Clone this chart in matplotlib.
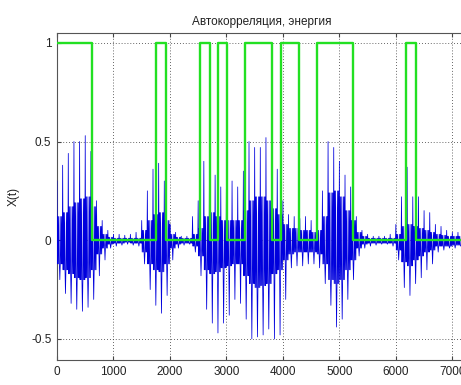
import numpy as np
import matplotlib
matplotlib.use("Agg")
import matplotlib.pyplot as plt

# ---- data ----
bin_width = 100  # samples per bin
spike_hi = [0.30, 0.38, 0.44, 0.50, 0.50, 0.53, 0.45, 0.20, 0.10, 0.05,
            0.03, 0.03, 0.025, 0.03, 0.04, 0.10, 0.25, 0.36, 0.39, 0.30,
            0.08, 0.04, 0.02, 0.02, 0.12, 0.20, 0.40, 0.38, 0.33, 0.27,
            0.30, 0.30, 0.27, 0.35, 0.50, 0.47, 0.47, 0.52, 0.40, 0.36,
            0.20, 0.13, 0.12, 0.11, 0.12, 0.10, 0.12, 0.25, 0.50, 0.47,
            0.40, 0.33, 0.27, 0.12, 0.05, 0.03, 0.02, 0.02, 0.02, 0.03,
            0.08, 0.22, 0.37, 0.22, 0.22, 0.15, 0.14, 0.08, 0.07, 0.05,
            0.04, 0.04, 0.04]
spike_lo = [-0.20, -0.27, -0.32, -0.35, -0.36, -0.34, -0.30, -0.18, -0.10, -0.04,
            -0.03, -0.025, -0.02, -0.025, -0.03, -0.12, -0.25, -0.33, -0.37, -0.28,
            -0.10, -0.04, -0.025, -0.02, -0.06, -0.18, -0.35, -0.42, -0.47, -0.42,
            -0.38, -0.30, -0.32, -0.40, -0.50, -0.49, -0.48, -0.45, -0.50, -0.48,
            -0.30, -0.14, -0.13, -0.13, -0.12, -0.12, -0.14, -0.22, -0.33, -0.44,
            -0.40, -0.30, -0.20, -0.08, -0.04, -0.03, -0.025, -0.02, -0.02, -0.03,
            -0.10, -0.24, -0.28, -0.22, -0.19, -0.15, -0.12, -0.06, -0.05, -0.04,
            -0.04, -0.03, -0.03]
core_hi = [0.12, 0.14, 0.17, 0.19, 0.21, 0.22, 0.17, 0.07, 0.03, 0.015,
           0.01, 0.01, 0.01, 0.01, 0.01, 0.05, 0.10, 0.13, 0.14, 0.10,
           0.03, 0.015, 0.01, 0.01, 0.03, 0.06, 0.12, 0.14, 0.12, 0.10,
           0.10, 0.10, 0.10, 0.15, 0.20, 0.22, 0.22, 0.20, 0.16, 0.13,
           0.08, 0.06, 0.06, 0.05, 0.05, 0.04, 0.05, 0.12, 0.24, 0.25,
           0.22, 0.15, 0.10, 0.04, 0.02, 0.01, 0.01, 0.01, 0.01, 0.01,
           0.03, 0.07, 0.08, 0.07, 0.06, 0.05, 0.04, 0.03, 0.025, 0.02,
           0.02, 0.02, 0.02]
core_lo = [-0.12, -0.15, -0.17, -0.19, -0.20, -0.19, -0.15, -0.07, -0.04, -0.02,
           -0.015, -0.015, -0.01, -0.015, -0.015, -0.06, -0.12, -0.15, -0.16, -0.12,
           -0.04, -0.02, -0.015, -0.015, -0.03, -0.08, -0.15, -0.17, -0.16, -0.14,
           -0.13, -0.12, -0.12, -0.18, -0.22, -0.24, -0.23, -0.22, -0.17, -0.15,
           -0.10, -0.07, -0.06, -0.06, -0.06, -0.06, -0.07, -0.12, -0.20, -0.22,
           -0.20, -0.15, -0.10, -0.04, -0.02, -0.015, -0.015, -0.015, -0.015, -0.015,
           -0.05, -0.11, -0.13, -0.10, -0.08, -0.06, -0.05, -0.03, -0.03, -0.03,
           -0.025, -0.025, -0.025]

# detector output (green): intervals where it equals 1
on_starts = [0, 1750, 2530, 2855, 3330, 3965, 4610, 6180]
on_ends = [625, 1925, 2710, 3015, 3800, 4290, 5245, 6355]
signal_end = 7260

title = "Автокорреляция, энергия"
ylabel = "X(t)"
xlabel = "t"
xticks = [0, 1000, 2000, 3000, 4000, 5000, 6000, 7000]
yticks = [-0.5, 0, 0.5, 1]

# ---- build waveform path from bin envelopes ----
wx, wy = [], []
n_sub = 12
for k in range(len(spike_hi)):
    x0 = k * bin_width
    for j in range(n_sub):
        if j == 0:
            v = spike_hi[k]
        elif j == 6:
            v = spike_lo[k]
        elif j % 2 == 1:
            v = core_lo[k]
        else:
            v = core_hi[k]
        wx.append(x0 + j * bin_width / n_sub)
        wy.append(v)

# step signal
gx, gy = [], []
for s, e in zip(on_starts, on_ends):
    gx += [s, s, e, e]
    gy += [0, 1, 1, 0]
gx.append(signal_end)
gy.append(0)
if on_starts[0] == 0:
    gx, gy = gx[1:], gy[1:]

plt.rcParams['font.family'] = ['Liberation Sans', 'DejaVu Sans']

fig = plt.figure(figsize=(4.61, 3.85), dpi=100)
ax = fig.add_axes([57/461, 25/385, 410/461, 327/385])

ax.plot(wx, wy, color='#0000dd', linewidth=0.55, zorder=3)
ax.plot(gx, gy, color='#22e022', linewidth=1.7, zorder=4)

ax.set_xlim(0, signal_end)
ax.set_ylim(-0.607, 1.05)
ax.set_xticks(xticks)
ax.set_yticks(yticks)
ax.set_yticklabels(['-0.5', '0', '0.5', '1'])
ax.grid(True, linestyle=(0, (1, 2.5)), color='#333333', linewidth=0.6)
ax.set_axisbelow(True)
ax.tick_params(direction='in', top=True, right=True, length=3, labelsize=8.5,
               color='#444444', labelcolor='#222222', pad=4)
for sp in ax.spines.values():
    sp.set_color('#555555')
    sp.set_linewidth(0.8)
ax.set_title(title, fontsize=8.5, color='#222222', pad=6)
ax.set_ylabel(ylabel, fontsize=8.5, color='#222222', labelpad=8)
ax.set_xlabel(xlabel, fontsize=8.5, color='#222222', labelpad=6)

fig.savefig('out.png', dpi=100)
